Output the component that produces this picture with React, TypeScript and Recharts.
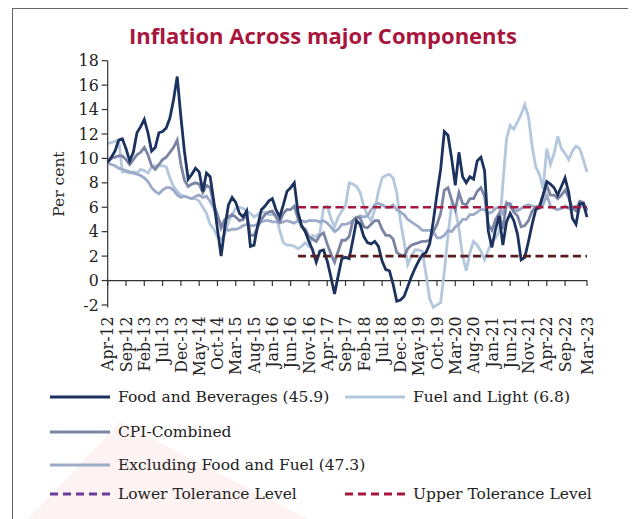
import { LineChart, Line, XAxis, YAxis, ReferenceLine } from 'recharts'

const MONTHS = ['Jan', 'Feb', 'Mar', 'Apr', 'May', 'Jun', 'Jul', 'Aug', 'Sep', 'Oct', 'Nov', 'Dec']

// Apr-12 ... Mar-23, monthly
const categories: string[] = []
for (let k = 0; k < 132; k++) {
  const m = (3 + k) % 12
  const yr = 12 + Math.floor((3 + k) / 12)
  categories.push(`${MONTHS[m]}-${yr}`)
}

const TICK_LABELS = [
  'Apr-12', 'Sep-12', 'Feb-13', 'Jul-13', 'Dec-13', 'May-14', 'Oct-14', 'Mar-15', 'Aug-15',
  'Jan-16', 'Jun-16', 'Nov-16', 'Apr-17', 'Sep-17', 'Feb-18', 'Jul-18', 'Dec-18', 'May-19',
  'Oct-19', 'Mar-20', 'Aug-20', 'Jan-21', 'Jun-21', 'Nov-21', 'Apr-22', 'Sep-22', 'Mar-23',
]

const Y_TICKS = [-2, 0, 2, 4, 6, 8, 10, 12, 14, 16, 18]

const foodBeverages = [
  9.7, 10.1, 10.6, 11.5, 11.6, 10.8, 9.8, 10.5, 12.1, 12.6,
  13.2, 12.1, 10.6, 10.9, 12.1, 12.2, 12.5, 13.3, 14.8, 16.7,
  13.4, 10.5, 8.3, 8.7, 9.2, 8.9, 7.3, 8.8, 8.5, 6.5,
  4.2, 2.0, 4.3, 6.2, 6.8, 6.4, 5.5, 5.2, 5.7, 2.8,
  2.9, 4.5, 5.8, 6.1, 6.5, 6.7, 5.8, 5.2, 6.2, 7.3,
  7.6, 8.0, 5.6, 4.5, 4.0, 3.2, 2.5, 1.5, 2.4, 2.5,
  1.6, 0.3, -1.1, 0.4, 1.8, 1.9, 1.8, 3.3, 4.9, 4.6,
  3.6, 3.1, 3.0, 3.2, 2.8, 1.6, 0.9, 0.8, -0.3, -1.7,
  -1.6, -1.3, -0.5, 0.3, 1.0, 1.6, 2.1, 2.3, 3.0, 4.9,
  7.1, 9.1, 12.2, 11.9, 10.0, 7.8, 10.5, 8.5, 8.0, 8.5,
  8.3, 9.8, 10.1, 9.0, 4.1, 2.7, 4.2, 5.3, 2.9, 4.8,
  5.5, 4.9, 3.8, 1.7, 1.9, 3.2, 4.6, 5.8, 6.0, 7.0,
  8.1, 7.9, 7.6, 7.0, 7.7, 8.4, 7.2, 5.1, 4.6, 6.3,
  6.3, 5.2,
]

const fuelLight = [
  11.2, 11.3, 11.4, 11.5, 8.9, 8.9, 8.8, 8.9, 8.8, 9.1,
  9.0, 8.8, 9.3, 9.4, 9.4, 9.4, 9.3, 8.4, 7.7, 7.3,
  7.0, 6.9, 6.8, 6.7, 6.7, 6.5, 6.0, 5.5, 4.6, 4.2,
  3.6, 3.4, 3.8, 4.8, 5.4, 5.9, 6.0, 5.9, 5.7, 5.5,
  5.2, 5.4, 5.6, 5.6, 5.4, 5.4, 5.4, 4.1, 3.1, 2.9,
  2.9, 2.8, 2.6, 2.8, 3.1, 2.8, 3.7, 3.6, 3.9, 6.0,
  6.1, 5.1, 4.4, 5.2, 5.7, 6.1, 8.0, 7.9, 7.7, 7.2,
  6.1, 5.3, 4.9, 5.8, 7.3, 8.4, 8.6, 8.7, 8.4, 7.2,
  4.9, 3.2, 1.3, 2.0, 2.5, 2.5, 2.4, 0.5, -1.5, -2.2,
  -2.0, -1.8, 0.7, 3.7, 6.2, 5.9, 4.2, 2.0, 0.8, 2.3,
  3.2, 2.9, 2.4, 1.7, 2.5, 3.2, 3.5, 4.0, 7.9, 11.6,
  12.7, 12.4, 13.0, 13.6, 14.4, 13.4, 11.0, 9.3, 8.7, 7.5,
  10.8, 9.5, 10.4, 11.8, 10.8, 10.4, 9.9, 10.6, 11.0, 10.8,
  9.9, 8.9,
]

const cpiCombined = [
  9.7, 10.0, 10.1, 10.2, 10.2, 9.9, 9.5, 9.9, 10.3, 10.5,
  10.9, 10.3, 9.4, 9.1, 9.5, 9.9, 10.1, 10.5, 10.9, 11.5,
  9.5, 8.2, 7.7, 7.9, 8.0, 7.9, 7.2, 7.8, 7.6, 6.2,
  5.4, 4.3, 5.0, 5.2, 5.4, 5.2, 4.9, 5.0, 5.4, 3.7,
  3.7, 4.4, 5.0, 5.4, 5.6, 5.7, 5.2, 4.8, 5.5, 5.8,
  5.8, 6.1, 5.1, 4.4, 4.2, 3.6, 3.4, 3.2, 3.7, 3.9,
  3.0, 2.2, 1.5, 2.4, 3.3, 3.3, 3.6, 4.9, 5.2, 5.1,
  4.4, 4.3, 4.6, 4.9, 4.9, 4.2, 3.7, 3.7, 3.4, 2.3,
  2.1, 2.0, 2.6, 2.9, 3.0, 3.1, 3.2, 3.2, 3.3, 4.0,
  4.6, 5.5, 7.4, 7.6, 6.6, 5.8, 7.2, 6.3, 6.2, 6.7,
  6.7, 7.3, 7.6, 6.9, 4.6, 4.1, 5.0, 5.5, 4.2, 6.3,
  6.3, 5.6, 5.3, 4.4, 4.5, 4.9, 5.7, 6.0, 6.1, 7.0,
  7.8, 7.0, 7.0, 6.7, 7.0, 7.4, 6.8, 5.9, 5.7, 6.5,
  6.4, 5.7,
]

const exFoodFuel = [
  9.6, 9.5, 9.4, 9.2, 9.1, 9.0, 8.9, 8.8, 8.7, 8.6,
  8.4, 8.1, 7.6, 7.3, 7.1, 7.4, 7.6, 7.6, 7.4, 7.0,
  6.8, 6.9, 6.8, 6.7, 6.9, 7.0, 6.8, 6.9, 6.5, 5.9,
  5.2, 4.6, 4.3, 4.1, 4.2, 4.2, 4.3, 4.5, 4.6, 4.5,
  4.5, 4.6, 4.8, 4.9, 4.9, 4.8, 4.8, 4.7, 4.8, 4.9,
  4.8, 4.7, 4.9, 4.9, 4.8, 4.9, 4.9, 4.9, 4.8, 4.9,
  4.7, 4.4, 4.0, 4.2, 4.6, 4.6, 4.7, 4.9, 5.1, 5.3,
  5.2, 5.3, 5.8, 6.2, 6.3, 6.2, 6.0, 6.0, 6.2, 5.8,
  5.6, 5.4, 5.0, 4.8, 4.6, 4.4, 4.1, 4.1, 4.1, 4.0,
  3.5, 3.5, 3.7, 4.1, 4.0, 4.4, 4.6, 5.0, 5.0, 5.4,
  5.4, 5.6, 5.8, 5.8, 5.5, 5.6, 5.9, 6.0, 5.5, 6.4,
  6.0, 5.8, 5.7, 5.9, 6.1, 6.2, 6.1, 6.0, 5.9, 6.2,
  7.0, 6.1, 5.9, 5.8, 5.9, 6.1, 5.9, 6.0, 6.1, 6.1,
  6.1, 5.8,
]

const LOWER_TOLERANCE = 2
const UPPER_TOLERANCE = 6
const TOLERANCE_FROM = 'Aug-16'
const TOLERANCE_TO = 'Mar-23'

const data = categories.map((month, i) => ({
  month,
  food: foodBeverages[i],
  fuel: fuelLight[i],
  cpi: cpiCombined[i],
  core: exFoodFuel[i],
}))

const C_FOOD = '#1b325f'
const C_FUEL = '#b3c7de'
const C_CPI = '#7b84a4'
const C_CORE = '#9dabca'
const C_UPPER = '#a5173c'
const C_LOWER_CHART = '#5a1c1f'
const C_LOWER_LEGEND = '#6a3c9e'

const SERIF = '"DejaVu Serif", serif'
const TEXT = '#222'
const LW = 2.8

function XTick({ x, y, payload }: any) {
  if (!TICK_LABELS.includes(payload.value)) return null
  return (
    <g transform={`translate(${x},${y})`}>
      <text transform="rotate(-90)" x={-1} y={0} dy="0.36em" textAnchor="end"
        fontFamily={SERIF} fontSize={15.8} fill={TEXT}>
        {payload.value}
      </text>
    </g>
  )
}

function YLabel({ viewBox }: any) {
  const cx = viewBox.x + 51
  const cy = viewBox.y + viewBox.height / 2
  return (
    <text x={cx} y={cy} transform={`rotate(-90, ${cx}, ${cy})`} textAnchor="middle"
      dominantBaseline="central" fontFamily={SERIF} fontSize={15.5} fill={TEXT}>
      Per cent
    </text>
  )
}

function LegendLine({ color, dashed }: { color: string; dashed?: boolean }) {
  return (
    <svg width={62} height={10} style={{ display: 'block' }}>
      <line x1={0} y1={5} x2={60} y2={5} stroke={color} strokeWidth={3}
        strokeDasharray={dashed ? '8 5' : undefined} />
    </svg>
  )
}

const legendItems = [
  { name: 'Food and Beverages (45.9)', color: C_FOOD, left: 42, top: 389 },
  { name: 'Fuel and Light (6.8)', color: C_FUEL, left: 337, top: 389 },
  { name: 'CPI-Combined', color: C_CPI, left: 42, top: 424 },
  { name: 'Excluding Food and Fuel (47.3)', color: C_CORE, left: 42, top: 457 },
  { name: 'Lower Tolerance Level', color: C_LOWER_LEGEND, left: 42, top: 486, dashed: true },
  { name: 'Upper Tolerance Level', color: C_UPPER, left: 337, top: 486, dashed: true },
]

export default function App() {
  return (
    <div style={{ position: 'relative', width: 628, height: 511, overflow: 'hidden' }}>
      <svg width={628} height={511} style={{ position: 'absolute', left: 0, top: 0 }}>
        <polygon points="112,414 300,511 20,511" fill="#fdf3f3" />
      </svg>
      <div style={{
        position: 'absolute', left: 4, top: 0, width: 621, height: 530,
        borderTop: '1px solid #666', borderLeft: '1px solid #666', borderRight: '1px solid #666',
      }} />
      <div style={{
        position: 'absolute', left: 0, top: 13, width: 630, height: 28, lineHeight: '28px',
        textAlign: 'center', fontFamily: '"Open Sans", sans-serif', fontWeight: 700,
        fontSize: 22, color: '#a8163d',
      }}>
        Inflation Across major Components
      </div>

      <div style={{ position: 'absolute', left: 0, top: 0 }}>
        <LineChart width={600} height={380} data={data}
          margin={{ top: 52.7, right: 21, left: 0, bottom: 0 }}>
          <XAxis dataKey="month" interval={0} axisLine={false} tickLine={false}
            tickSize={6} tickMargin={2} height={80.6} tick={<XTick />} />
          <YAxis domain={[-2, 18]} ticks={Y_TICKS} interval={0} width={99.7}
            axisLine={{ stroke: '#333', strokeWidth: 1.2 }} tickLine={{ stroke: '#333', strokeWidth: 1.2 }}
            tickSize={6} tickMargin={3}
            tick={{ fontFamily: SERIF, fontSize: 15.8, fill: TEXT }}
            label={<YLabel />} />
          <ReferenceLine y={0} stroke="#333" strokeWidth={1.2} />
          {TICK_LABELS.map((m) => (
            <ReferenceLine key={m} segment={[{ x: m, y: 0 }, { x: m, y: -0.45 }]}
              stroke="#333" strokeWidth={1.2} />
          ))}
          <Line dataKey="fuel" stroke={C_FUEL} strokeWidth={LW} dot={false} isAnimationActive={false} />
          <Line dataKey="core" stroke={C_CORE} strokeWidth={LW} dot={false} isAnimationActive={false} />
          <Line dataKey="cpi" stroke={C_CPI} strokeWidth={LW} dot={false} isAnimationActive={false} />
          <Line dataKey="food" stroke={C_FOOD} strokeWidth={LW} dot={false} isAnimationActive={false} />
          <ReferenceLine segment={[{ x: TOLERANCE_FROM, y: UPPER_TOLERANCE }, { x: TOLERANCE_TO, y: UPPER_TOLERANCE }]}
            stroke={C_UPPER} strokeWidth={2.6} strokeDasharray="8 4.5" />
          <ReferenceLine segment={[{ x: TOLERANCE_FROM, y: LOWER_TOLERANCE }, { x: TOLERANCE_TO, y: LOWER_TOLERANCE }]}
            stroke={C_LOWER_CHART} strokeWidth={2.6} strokeDasharray="8 4.5" />
        </LineChart>
      </div>

      {legendItems.map((it) => (
        <div key={it.name} style={{
          position: 'absolute', left: it.left, top: it.top - 10, height: 20,
          display: 'flex', alignItems: 'center', fontFamily: SERIF, fontSize: 15.5, color: TEXT,
          whiteSpace: 'nowrap',
        }}>
          <LegendLine color={it.color} dashed={it.dashed} />
          <span style={{ marginLeft: 6 }}>{it.name}</span>
        </div>
      ))}
    </div>
  )
}
